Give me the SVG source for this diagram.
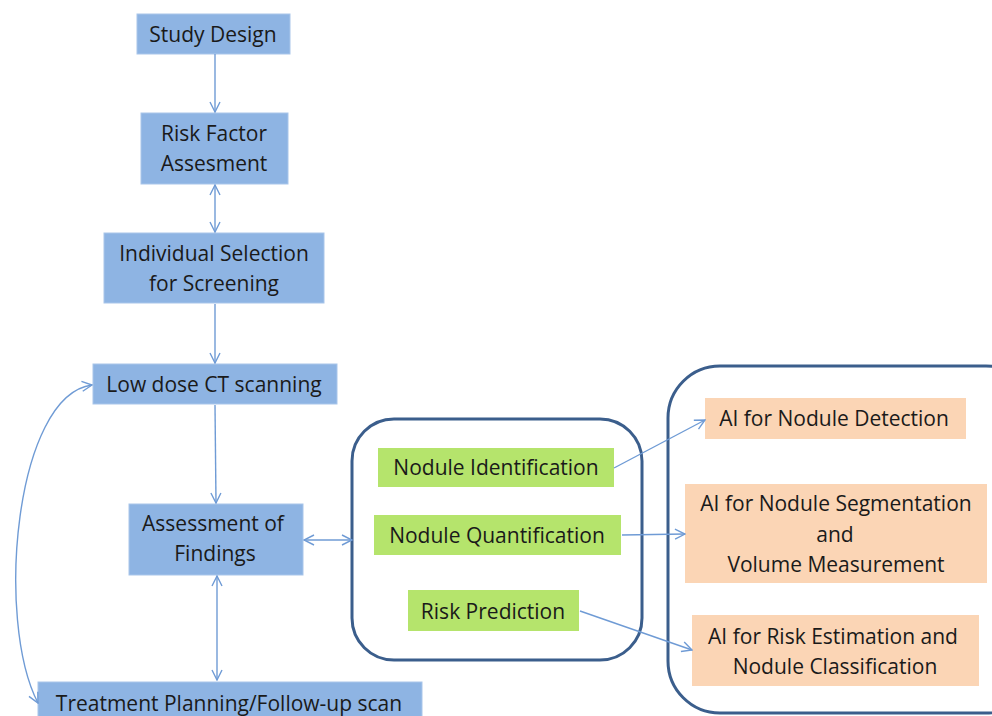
<svg xmlns="http://www.w3.org/2000/svg" width="992" height="716" viewBox="0 0 992 716">
<defs>
<marker id="ah" viewBox="0 0 12 12" refX="11" refY="6" markerWidth="12" markerHeight="12" markerUnits="userSpaceOnUse" orient="auto-start-reverse">
<path d="M1 1 L11 6 L1 11" fill="none" stroke="#6F9BD5" stroke-width="1.4"/>
</marker>
<style>
.blue{fill:#8EB4E3;stroke:#A9C6EA;stroke-width:1}
.green{fill:#B5E46C}
.peach{fill:#FBD5B5}
.grp{fill:none;stroke:#3B5E8C;stroke-width:3}
text{font-family:"Open Sans","Liberation Sans",Arial,sans-serif;font-size:21px;fill:#1a1a1a;text-anchor:middle}
.c{fill:none;stroke:#6F9BD5;stroke-width:1.4}
</style>
</defs>
<rect width="992" height="716" fill="#ffffff"/>
<g id="group-left"><rect class="grp" x="352" y="419" width="290" height="241" rx="42"/></g>
<g id="group-right"><rect class="grp" x="668" y="366" width="370" height="347" rx="52"/></g>
<g id="study-design"><rect class="blue" x="137" y="14" width="153" height="40"/><text x="213" y="42">Study Design</text></g>
<g id="risk-factor"><rect class="blue" x="141" y="113" width="147" height="71"/><text x="214" y="141">Risk Factor</text><text x="214" y="171">Assesment</text></g>
<g id="individual-selection"><rect class="blue" x="104" y="233" width="220" height="70"/><text x="214" y="261">Individual Selection</text><text x="214" y="291">for Screening</text></g>
<g id="low-dose"><rect class="blue" x="93" y="364" width="244" height="40"/><text x="214" y="392">Low dose CT scanning</text></g>
<g id="assessment"><rect class="blue" x="129" y="504" width="174" height="71"/><text x="213" y="531">Assessment of</text><text x="215" y="561">Findings</text></g>
<g id="treatment"><rect class="blue" x="38" y="682" width="384" height="40"/><text x="229" y="711">Treatment Planning/Follow-up scan</text></g>
<g id="nodule-identification"><rect class="green" x="378" y="448" width="236" height="39"/><text x="496" y="475">Nodule Identification</text></g>
<g id="nodule-quantification"><rect class="green" x="374" y="515" width="247" height="40"/><text x="497" y="543">Nodule Quantification</text></g>
<g id="risk-prediction"><rect class="green" x="408" y="590" width="171" height="41"/><text x="493" y="619">Risk Prediction</text></g>
<g id="ai-detection"><rect class="peach" x="705" y="398" width="261" height="41"/><text x="834" y="426">AI for Nodule Detection</text></g>
<g id="ai-segmentation"><rect class="peach" x="685" y="484" width="302" height="99"/><text x="836" y="511">AI for Nodule Segmentation</text><text x="835" y="542">and</text><text x="836" y="572">Volume Measurement</text></g>
<g id="ai-risk"><rect class="peach" x="692" y="615" width="287" height="71"/><text x="833" y="644">AI for Risk Estimation and</text><text x="835" y="674">Nodule Classification</text></g>
<g id="connectors">
<path class="c" d="M215 54 V112" marker-end="url(#ah)"/>
<path class="c" d="M215 185 V232" marker-start="url(#ah)" marker-end="url(#ah)"/>
<path class="c" d="M215 304 V363" marker-end="url(#ah)"/>
<path class="c" d="M215 405 L216 503" marker-end="url(#ah)"/>
<path class="c" d="M217 576 V680" marker-start="url(#ah)" marker-end="url(#ah)"/>
<path class="c" d="M304 540 H352" marker-start="url(#ah)" marker-end="url(#ah)"/>
<path class="c" d="M92 385 C15 395 -5 620 38 703" marker-start="url(#ah)" marker-end="url(#ah)"/>
<path class="c" d="M614 468 L705 420" marker-end="url(#ah)"/>
<path class="c" d="M622 535 L685 534" marker-end="url(#ah)"/>
<path class="c" d="M580 611 L692 650" marker-end="url(#ah)"/>
</g>
</svg>
